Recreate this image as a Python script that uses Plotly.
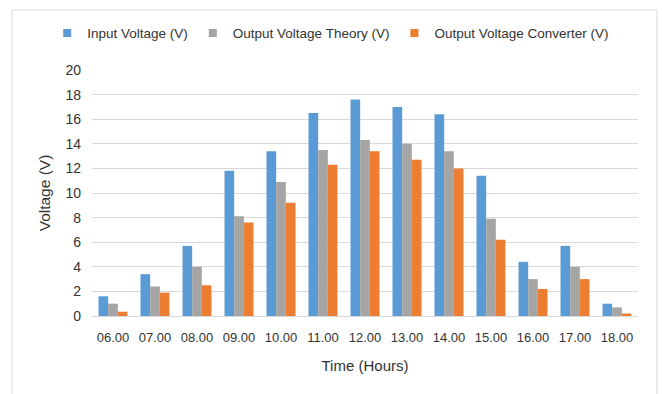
import plotly.graph_objects as go

hours = ["06.00", "07.00", "08.00", "09.00", "10.00", "11.00", "12.00",
         "13.00", "14.00", "15.00", "16.00", "17.00", "18.00"]
input_voltage = [1.6, 3.4, 5.7, 11.8, 13.4, 16.5, 17.6, 17.0, 16.4, 11.4, 4.4, 5.7, 1.0]
output_theory = [1.0, 2.4, 4.0, 8.1, 10.9, 13.5, 14.3, 14.0, 13.4, 7.9, 3.0, 4.0, 0.7]
output_converter = [0.35, 1.9, 2.5, 7.6, 9.2, 12.3, 13.4, 12.7, 12.0, 6.2, 2.2, 3.0, 0.2]

names = ["Input Voltage (V)", "Output Voltage Theory (V)", "Output Voltage Converter (V)"]
colors = ["#5B9BD5", "#A5A5A5", "#ED7D31"]
series = [input_voltage, output_theory, output_converter]

FONT = "Liberation Sans, Arial, sans-serif"
TXT = "#333333"

fig = go.Figure()
for name, vals, col in zip(names, series, colors):
    fig.add_trace(go.Bar(x=hours, y=vals, name=name, marker=dict(color=col, line=dict(width=0)),
                         showlegend=False))
for name, col in zip(names, colors):
    fig.add_trace(go.Scatter(x=[None], y=[None], mode="markers", name=name,
                             marker=dict(symbol="square", size=8, color=col)))

fig.update_layout(
    width=662, height=394,
    margin=dict(l=92, r=24, t=70, b=78, autoexpand=False),
    paper_bgcolor="white", plot_bgcolor="white",
    barmode="group", bargap=0.31, bargroupgap=0,
    font=dict(family=FONT, color=TXT, size=13),
    legend=dict(orientation="h", x=-0.082, xanchor="left",
                y=1.15, yanchor="middle",
                font=dict(size=13.5, color=TXT), itemwidth=30, tracegroupgap=0,
                bgcolor="rgba(0,0,0,0)"),
    xaxis=dict(title=dict(text="Time (Hours)", font=dict(size=15, color=TXT), standoff=16),
               tickfont=dict(size=13, color=TXT), showgrid=False,
               showline=True, linecolor="#d9d9d9", linewidth=1, ticks="",
               ticklabelstandoff=9, tickangle=0, automargin=False),
    yaxis=dict(title=dict(text="Voltage (V)", font=dict(size=15.5, color=TXT), standoff=10),
               range=[0, 20], dtick=2, tickfont=dict(size=14, color=TXT),
               showgrid=True, gridcolor="#d9d9d9", gridwidth=1,
               zeroline=False, showline=False, ticks="", ticklabelstandoff=10,
               automargin=False),
    shapes=[dict(type="rect", xref="paper", yref="paper",
                 x0=-0.1465, x1=1.0348, y0=-0.40, y1=1.2439,
                 line=dict(color="#d9d9d9", width=1), fillcolor="rgba(0,0,0,0)", layer="below")],
)

fig.write_html("out.html")
